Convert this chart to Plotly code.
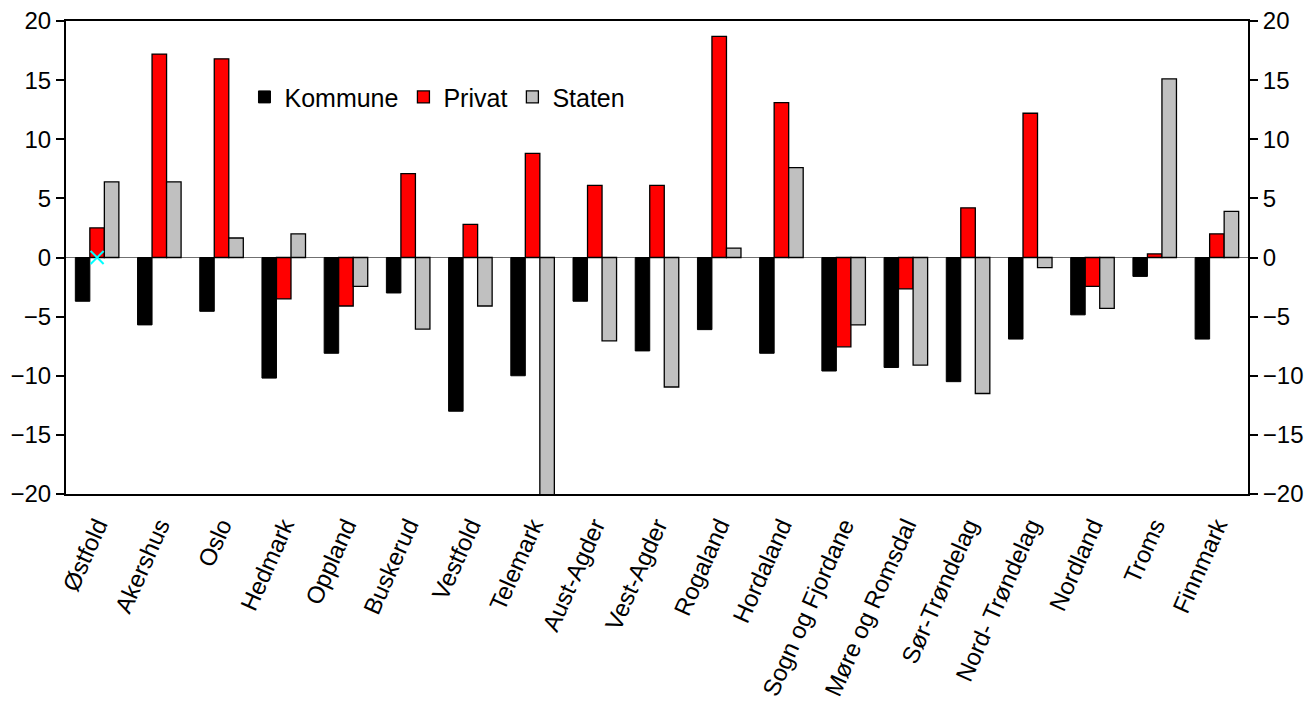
import plotly.graph_objects as go

fylker = ["Østfold", "Akershus", "Oslo", "Hedmark", "Oppland", "Buskerud", "Vestfold",
          "Telemark", "Aust-Agder", "Vest-Agder", "Rogaland", "Hordaland",
          "Sogn og Fjordane", "Møre og Romsdal", "Sør-Trøndelag", "Nord- Trøndelag",
          "Nordland", "Troms", "Finnmark"]
kommune = [-3.7, -5.7, -4.55, -10.2, -8.1, -3.0, -13.0, -10.0, -3.7, -7.9, -6.1, -8.1,
           -9.6, -9.3, -10.5, -6.9, -4.85, -1.6, -6.9]
privat = [2.5, 17.2, 16.8, -3.5, -4.1, 7.1, 2.8, 8.8, 6.1, 6.1, 18.7, 13.1,
          -7.55, -2.65, 4.2, 12.2, -2.45, 0.3, 2.0]
staten = [6.4, 6.4, 1.65, 2.0, -2.45, -6.05, -4.1, -20.5, -7.05, -10.95, 0.8, 7.6,
          -5.7, -9.1, -11.5, -0.85, -4.3, 15.1, 3.9]
marker_cat = ["Østfold"]
marker_val = [0]
yticks = [-20, -15, -10, -5, 0, 5, 10, 15, 20]

font = "Liberation Sans, Arial, sans-serif"

fig = go.Figure()
fig.add_trace(go.Bar(name="Kommune", x=fylker, y=kommune,
                     marker=dict(color="#000000", line=dict(color="#000000", width=1))))
fig.add_trace(go.Bar(name="Privat", x=fylker, y=privat,
                     marker=dict(color="#FF0000", line=dict(color="#000000", width=1.3))))
fig.add_trace(go.Bar(name="Staten", x=fylker, y=staten,
                     marker=dict(color="#C0C0C0", line=dict(color="#000000", width=1.3))))
fig.add_trace(go.Scatter(x=marker_cat, y=marker_val, mode="markers", showlegend=False,
                         yaxis="y2",
                         marker=dict(symbol="x-thin", size=13, color="#00FFFF",
                                     line=dict(color="#00FFFF", width=2))))

axis_common = dict(range=[-20, 20], tickvals=yticks, ticks="outside", ticklen=8,
                   tickwidth=2, tickcolor="#000000", showline=True, linecolor="#000000",
                   linewidth=2, showgrid=False, automargin=False,
                   ticklabeloverflow="allow",
                   tickfont=dict(family=font, size=24, color="#000000"))

fig.update_layout(
    width=1306, height=720,
    margin=dict(l=66, r=58, t=21, b=226),
    paper_bgcolor="#FFFFFF", plot_bgcolor="#FFFFFF",
    barmode="group", bargap=0.3, bargroupgap=0,
    font=dict(family=font, size=24, color="#000000"),
    xaxis=dict(showline=True, linecolor="#000000", linewidth=2, mirror=True,
               range=[-0.5, len(fylker) - 0.5], autorange=False,
               ticks="", tickangle=-66, showgrid=False, automargin=False,
               ticklabelstandoff=6, ticklabeloverflow="allow",
               tickfont=dict(family=font, size=24, color="#000000")),
    yaxis=dict(**axis_common, zeroline=True, zerolinecolor="#707070", zerolinewidth=1),
    yaxis2=dict(**axis_common, overlaying="y", side="right", zeroline=False),
    legend=dict(orientation="h", x=0.151, y=0.839, xanchor="left", yanchor="middle",
                bgcolor="rgba(0,0,0,0)", font=dict(family=font, size=25),
                itemwidth=30, traceorder="normal"),
    showlegend=True,
)

fig.write_html("out.html",
               config={"displayModeBar": False},
               post_script="document.body.style.margin='0px';"
                           "document.body.style.overflow='hidden';")
